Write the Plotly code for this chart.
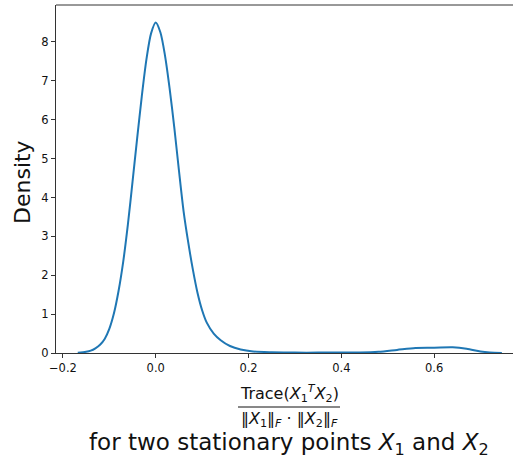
import plotly.graph_objects as go

# KDE curve
x_vals = [-0.168, -0.15, -0.14, -0.13, -0.12, -0.11, -0.10, -0.09, -0.08, -0.07,
          -0.06, -0.05, -0.04, -0.03, -0.02, -0.01, 0.0, 0.01, 0.02, 0.03,
          0.04, 0.05, 0.06, 0.07, 0.08, 0.09, 0.10, 0.11, 0.125, 0.14,
          0.16, 0.183, 0.21, 0.25, 0.30, 0.35, 0.40, 0.44, 0.48, 0.52,
          0.56, 0.60, 0.64, 0.67, 0.70, 0.72, 0.746]
density = [0.005, 0.03, 0.06, 0.12, 0.21, 0.36, 0.62, 1.02, 1.60, 2.35,
           3.30, 4.40, 5.52, 6.60, 7.55, 8.22, 8.50, 8.25, 7.65, 6.80,
           5.80, 4.70, 3.65, 2.85, 2.15, 1.55, 1.10, 0.78, 0.50, 0.33,
           0.18, 0.09, 0.04, 0.02, 0.01, 0.01, 0.01, 0.012, 0.03, 0.08,
           0.13, 0.135, 0.145, 0.11, 0.04, 0.015, 0.003]

x_ticks = [-0.2, 0.0, 0.2, 0.4, 0.6]
x_tick_text = ["\u22120.2", "0.0", "0.2", "0.4", "0.6"]
y_ticks = [0, 1, 2, 3, 4, 5, 6, 7, 8]

FONT = "DejaVu Sans"
AX = "#333333"

fig = go.Figure(go.Scatter(x=x_vals, y=density, mode="lines",
                           line=dict(color="#1f77b4", width=2, shape="spline", smoothing=0.8),
                           hoverinfo="skip"))

fig.update_layout(
    width=513, height=459,
    margin=dict(l=56, r=0, t=5, b=106),
    plot_bgcolor="white", paper_bgcolor="white",
    showlegend=False,
    font=dict(family=FONT, color="#111111", size=11),
)
fig.update_xaxes(range=[-0.2149, 0.770], tickvals=x_ticks, ticktext=x_tick_text,
                 showgrid=False, zeroline=False, showline=True, linecolor=AX, linewidth=1,
                 ticks="outside", ticklen=4, tickcolor=AX, tickwidth=1,
                 tickfont=dict(size=11.5, family=FONT))
fig.update_yaxes(range=[0, 8.95], tickvals=y_ticks,
                 showgrid=False, zeroline=False, showline=True, linecolor=AX, linewidth=1,
                 ticks="outside", ticklen=4, tickcolor=AX, tickwidth=1,
                 tickfont=dict(size=11.5, family=FONT))

# top spine
fig.add_shape(type="line", xref="paper", yref="paper", x0=0, x1=1, y0=1, y1=1,
              line=dict(color=AX, width=1))

# y label
fig.add_annotation(text="Density", xref="paper", yref="paper", x=0, y=0.5,
                   xanchor="center", yanchor="middle", xshift=-34, yshift=-3,
                   textangle=-90, showarrow=False, font=dict(size=22, family=FONT, color="#111"))

# x label: fraction + second line
cx = 289 - 56
fig.add_annotation(text="Trace(<i>X</i><sub>1</sub><sup><i>T</i></sup><i>X</i><sub>2</sub>)",
                   xref="paper", yref="paper", x=0, y=0, xanchor="center", yanchor="middle",
                   xshift=cx, yshift=-40, showarrow=False,
                   font=dict(size=16, family=FONT, color="#111"))
fig.add_shape(type="line", xref="paper", yref="paper", x0=(238 - 56) / 457, x1=(340 - 56) / 457,
              y0=-(407 - 353) / 348, y1=-(407 - 353) / 348, line=dict(color="#111", width=1))
fig.add_annotation(text="\u2016<i>X</i><sub>1</sub>\u2016<sub><i>F</i></sub> \u00b7 \u2016<i>X</i><sub>2</sub>\u2016<sub><i>F</i></sub>",
                   xref="paper", yref="paper", x=0, y=0, xanchor="center", yanchor="middle",
                   xshift=cx, yshift=-66, showarrow=False,
                   font=dict(size=16, family=FONT, color="#111"))
fig.add_annotation(text="for two stationary points <i>X</i><sub>1</sub> and <i>X</i><sub>2</sub>",
                   xref="paper", yref="paper", x=0, y=0, xanchor="center", yanchor="middle",
                   xshift=cx, yshift=-91, showarrow=False,
                   font=dict(size=23, family=FONT, color="#111"))

fig.write_html("out.html", config={"displayModeBar": False},
               post_script="document.body.style.margin='0';")
